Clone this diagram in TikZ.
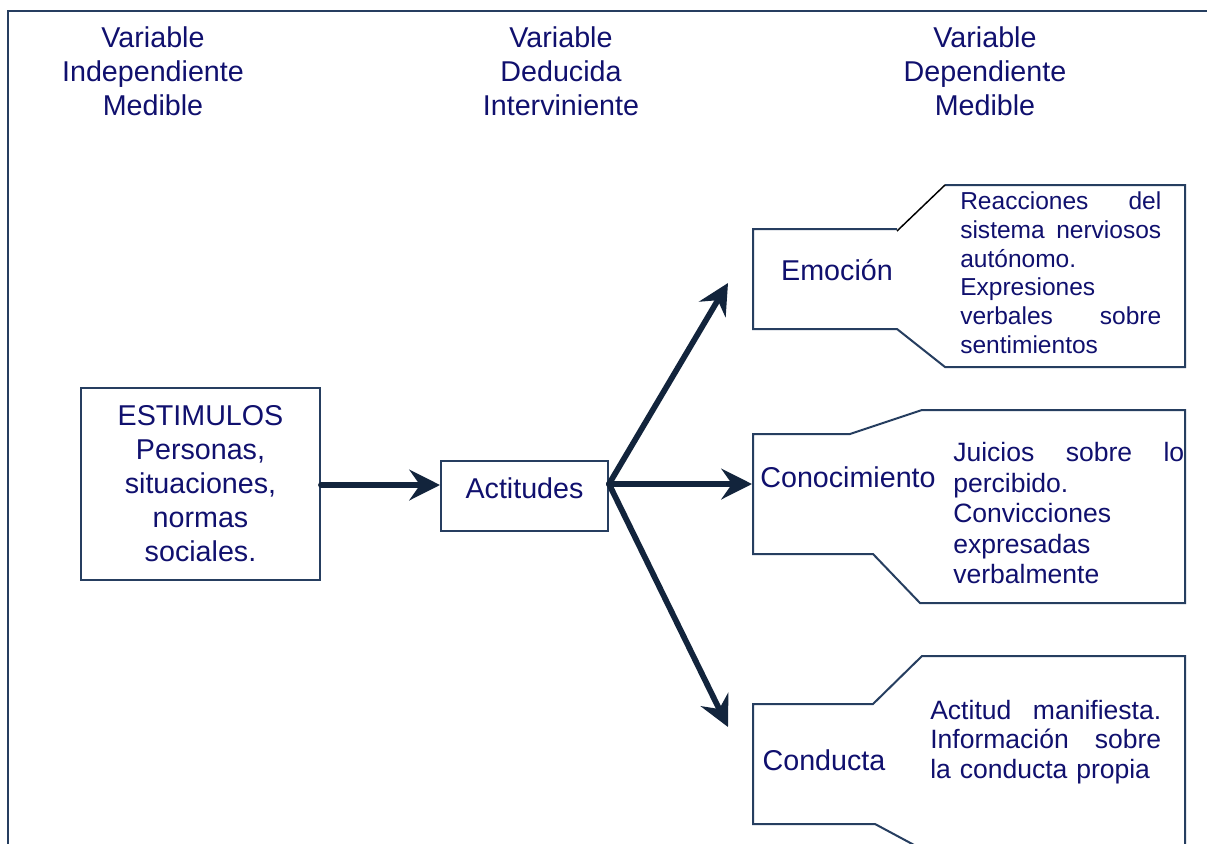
\documentclass[tikz,border=0pt]{standalone}
\usepackage{fontspec}
\setmainfont{Liberation Sans}
\usetikzlibrary{arrows.meta}
\definecolor{txt}{RGB}{16,16,110}
\definecolor{edge}{RGB}{38,62,96}
\definecolor{arr}{RGB}{18,36,60}
\begin{document}
\begin{tikzpicture}[x=0.75pt,y=-0.75pt,
  hdr/.style={text=txt,align=center,anchor=north,inner sep=0pt,font=\fontsize{21.5}{25.5}\selectfont},
  box/.style={draw=edge,line width=1.5pt,text=txt,align=center,inner sep=0pt,font=\fontsize{21.5}{25.5}\selectfont},
  lbl/.style={text=txt,anchor=base,inner sep=0pt,font=\fontsize{21.5}{25.5}\selectfont},
  desc/.style={text=txt,align=left,anchor=north west,inner sep=0pt},
  callout/.style={draw=edge,line width=1.5pt,line join=miter},
  frame/.style={draw=edge,line width=1.9pt},
  arrowline/.style={draw=arr,line width=4.3pt,line cap=round,-{Stealth[length=23pt,width=23pt,inset=8pt]}}]
\useasboundingbox (0,0) rectangle (1207,843);
\fill[white] (0,0) rectangle (1207,843);
% outer frame
\draw[frame] (1210,11) -- (8,11) -- (8,846);
% headers
\node[hdr] (h1) at (153,26.5) {Variable\\Independiente\\Medible};
\node[hdr] (h2) at (561,26.5) {Variable\\Deducida\\Interviniente};
\node[hdr] (h3) at (985,26.5) {Variable\\Dependiente\\Medible};
% left boxes
\node[box,minimum width=179.25pt,minimum height=144pt] (estimulos) at (200.5,484)
  {ESTIMULOS\\Personas,\\situaciones,\\normas\\sociales.};
\node[box,minimum width=125.25pt,minimum height=52.5pt,text depth=12.4pt] (actitudes) at (524.5,496) {Actitudes};
% callouts
\draw[callout] (945,185) -- (1185,185) -- (1185,367) -- (945,367) -- (897,329) -- (753,329) -- (753,229) -- (897,229);
\draw[black,line width=1.1pt] (897,231) -- (945,185);
\draw[callout] (850,434) -- (922,410) -- (1185,410) -- (1185,603) -- (920,603) -- (873,554) -- (753,554) -- (753,434) -- cycle;
\draw[callout] (916,846) -- (875,824) -- (753,824) -- (753,704) -- (873,704) -- (922,656) -- (1185,656) -- (1185,846);
% labels
\node[lbl] (emocion) at (837,280) {Emoción};
\node[lbl] (conocimiento) at (848,487) {Conocimiento};
\node[lbl] (conducta) at (824,770) {Conducta};
% descriptions
\node[desc,text width=150.75pt,font=\fontsize{18.4}{21.6}\selectfont] (emodesc) at (960,191.5)
  {Reacciones\hfill del\\sistema\hfill nerviosos\\autónomo.\\Expresiones\\verbales\hfill sobre\\sentimientos};
\node[desc,text width=173.25pt,font=\fontsize{19.9}{22.9}\selectfont] (conodesc) at (953,442)
  {Juicios\hfill sobre\hfill lo\\percibido.\\Convicciones\\expresadas\\verbalmente};
\node[desc,text width=173.25pt,font=\fontsize{19.9}{22.1}\selectfont] (condesc) at (930,700)
  {Actitud\hfill manifiesta.\\Información\hfill sobre\\la conducta propia};
% connectors
\coordinate (fork) at (609,484);
\coordinate (tipE) at (728,283);
\coordinate (tipK) at (752,484);
\coordinate (tipC) at (728,727);
\draw[arrowline] (estimulos.east |- 0,485) -- (actitudes.west |- 0,485);
\draw[arrowline] (fork) -- (tipE);
\draw[arrowline] (fork) -- (tipK);
\draw[arrowline] (fork) -- (tipC);
\end{tikzpicture}
\end{document}
